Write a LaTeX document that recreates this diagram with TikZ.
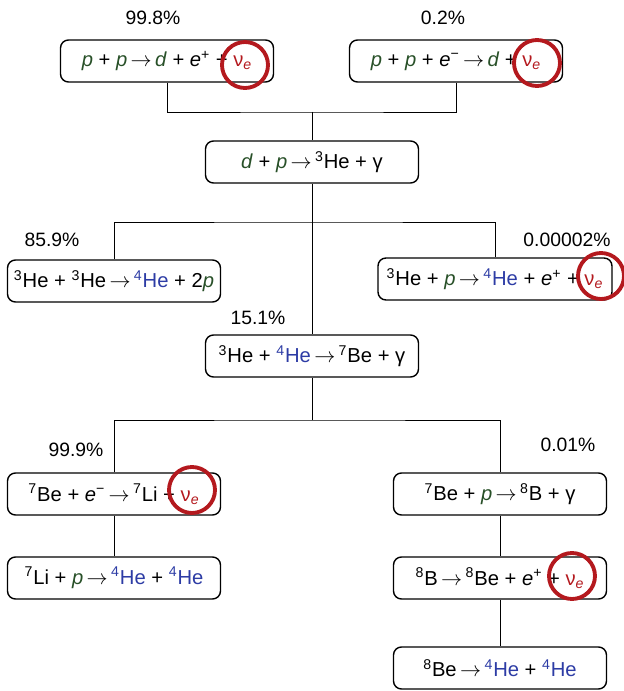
\documentclass[tikz,border=0pt]{standalone}
\usepackage{fontspec}
\setmainfont{Liberation Sans}
\usepackage{tikz}
\usepackage{xcolor}

\definecolor{pgreen}{RGB}{40,80,40}
\definecolor{heblue}{RGB}{45,60,165}
\definecolor{nured}{RGB}{180,25,30}

\newcommand{\pp}{\textcolor{pgreen}{\textit{p}}}
\newcommand{\dd}{\textcolor{pgreen}{\textit{d}}}
\newcommand{\ee}[1]{\textit{e}\textsuperscript{#1}}
\newcommand{\iso}[2]{\textsuperscript{#1}#2}
\newcommand{\hefour}{\textcolor{heblue}{\textsuperscript{4}He}}
\newcommand{\nue}{\textcolor{nured}{ν\textsubscript{\textit{e}}}}
\newcommand{\ra}{\,$\rightarrow$\,}

\begin{document}
\begin{tikzpicture}[>=latex, line width=0.5pt,
  reac/.style={draw, line width=0.8pt, rounded corners=0.16cm, minimum width=4.26cm,
    minimum height=0.84cm, inner sep=2pt, font=\fontsize{11.5}{13}\selectfont},
  pct/.style={font=\fontsize{11}{13}\selectfont},
  nucirc/.style={circle, draw=nured, line width=2.2pt, minimum size=0.92cm, inner sep=0pt}]
\useasboundingbox (0,0) rectangle (12.46,13.82);

\node[reac] (ppd) at (3.34,12.60) {\pp{} + \pp\ra\dd{} + \ee{+} + \nue};
\node[reac] (pep) at (9.12,12.60) {\pp{} + \pp{} + \ee{−}\ra\dd{} + \nue};
\node[reac] (dp) at (6.24,10.58) {\dd{} + \pp\ra\iso{3}{He} + γ};
\node[reac] (hehe) at (2.28,8.20) {\iso{3}{He} + \iso{3}{He}\ra\hefour{} + 2\pp};
\node[reac, minimum width=4.68cm] (hep) at (9.90,8.24) {\iso{3}{He} + \pp\ra\hefour{} + \ee{+} + \nue};
\node[reac] (be) at (6.24,6.70) {\iso{3}{He} + \hefour\ra\iso{7}{Be} + γ};
\node[reac] (bee) at (2.28,3.94) {\iso{7}{Be} + \ee{−}\ra\iso{7}{Li} + \nue};
\node[reac] (lip) at (2.28,2.26) {\iso{7}{Li} + \pp\ra\hefour{} + \hefour};
\node[reac] (bep) at (10.00,3.94) {\iso{7}{Be} + \pp\ra\iso{8}{B} + γ};
\node[reac] (bdec) at (10.00,2.26) {\iso{8}{B}\ra\iso{8}{Be} + \ee{+} + \nue};
\node[reac] (bedec) at (10.00,0.46) {\iso{8}{Be}\ra\hefour{} + \hefour};

\node[pct] (pA) at (3.06,13.46) {99.8\%};
\node[pct] (pB) at (8.86,13.46) {0.2\%};
\node[pct] (pD) at (1.04,9.02) {85.9\%};
\node[pct] (pE) at (11.34,9.02) {0.00002\%};
\node[pct] (pF) at (5.16,7.46) {15.1\%};
\node[pct] (pG) at (1.52,4.82) {99.9\%};
\node[pct] (pH) at (11.36,4.92) {0.01\%};

\coordinate (j1) at (6.24,11.58);
\coordinate (j2) at (6.24,9.38);
\coordinate (j3) at (6.24,5.42);

\draw (ppd.south) |- (j1) -| (pep.south);
\draw (j1) -- (dp.north);
\draw (dp.south) -- (be.north);
\draw (hehe.north) |- (j2) -| (hep.north);
\draw (be.south) -- (j3);
\draw (bee.north) |- (j3) -| (bep.north);
\draw (bee) -- (lip);
\draw (bep) -- (bdec);
\draw (bdec) -- (bedec);

\node[nucirc] (cA) at (4.90,12.52) {};
\node[nucirc] (cB) at (10.74,12.56) {};
\node[nucirc] (cE) at (12.02,8.30) {};
\node[nucirc] (cG) at (3.84,4.02) {};
\node[nucirc] (cJ) at (11.44,2.30) {};
\end{tikzpicture}
\end{document}
